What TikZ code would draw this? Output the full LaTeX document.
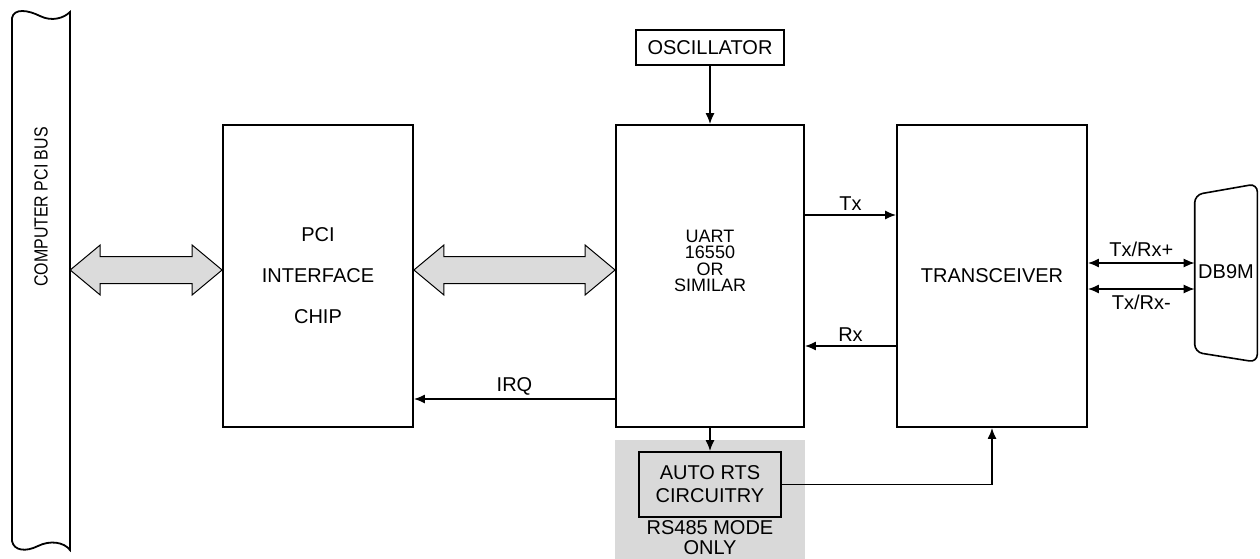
\documentclass[tikz,border=0pt]{standalone}
\usepackage{fontspec}
\setmainfont{Liberation Sans}
\usetikzlibrary{arrows.meta, positioning, calc}

\newcommand{\fatarrow}[2]{%
	\draw [fat] (#1) -- ++(30,-25) -- ++(0,11.5) -- ($(#2)+(-30,-13.5)$) -- ++(0,-11.5) -- (#2)
		-- ++(-30,25) -- ++(0,-11.5) -- ($(#1)+(30,13.5)$) -- ++(0,11.5) -- cycle;}

\begin{document}
\begin{tikzpicture}[x=1pt, y=-1pt, font=\fontsize{20}{24}\selectfont]
		\tikzstyle{Block} = [rectangle, draw=black, line width=1.8pt, minimum width=190pt, minimum height=302pt, align=center]
		\tikzstyle{Small} = [rectangle, draw=black, line width=1.8pt, align=center]
		\tikzstyle{arrow} = [line width=1.5pt, ->, >={Latex[length=11pt,width=9pt]}]
		\tikzstyle{fat} = [draw=black, line width=1pt, fill=gray!28]
		
		\useasboundingbox (0,0) rectangle (1260,559);
		\fill [gray!30] (615,440) rectangle (805,559);
		
		\node (bus) [minimum width=58pt, minimum height=530pt] at (41,280) {};
		\node (busname) [rotate=90, xscale=0.84, font=\fontsize{19}{22}\selectfont] at (41,207) {COMPUTER PCI BUS};
		\draw [line width=1.8pt] (12,18) .. controls (14,8) and (28,10) .. (40,16) .. controls (52,22) and (64,18) .. (70,12)
			-- (70,550) .. controls (64,542) and (50,540) .. (38,546) .. controls (26,552) and (14,551) .. (12,541) -- cycle;
		
		\node (pci) [Block] at (318,276) {PCI\\[17pt]INTERFACE\\[17pt]CHIP};
		\node (uart) [Block, minimum width=188pt] at (710,276) {};
		\node (uartname) [align=center, font=\fontsize{18}{16.5}\selectfont] at (710,261) {UART\\16550\\OR\\SIMILAR};
		\node (trx) [Block] at (992,276) {TRANSCEIVER};
		\node (osc) [Small, minimum width=148pt, minimum height=35pt] at (710,47.5) {OSCILLATOR};
		\node (rts) [Small, minimum width=142pt, minimum height=65pt, font=\fontsize{20}{23}\selectfont] at (710,484.5) {AUTO RTS\\CIRCUITRY};
		\node (mode) [align=center, font=\fontsize{20}{20}\selectfont, inner sep=0pt] at (710,538) {RS485 MODE\\ONLY};
		
		\node (db9) [minimum width=62pt, minimum height=170pt] at (1226,272) {DB9M};
		\draw [line width=1.6pt, rounded corners=8pt] ($(db9.north west)+(0,8)$) -- ($(db9.north east)+(0,-3)$)
			-- ($(db9.south east)+(0,5)$) -- ($(db9.south west)+(0,-5)$) -- cycle;
		
		\fatarrow{[yshift=10pt]bus.east}{[yshift=6pt]pci.west}
		\fatarrow{[yshift=6pt]pci.east}{[yshift=6pt]uart.west}
		
		\draw [arrow] (osc) -- (uart);
		\draw [arrow] (uart) -- (rts);
		\draw [arrow] ([yshift=61pt]uart.east) -- ([yshift=61pt]trx.west) node [midway, above] {Tx};
		\draw [arrow] ([yshift=-70pt]trx.west) -- ([yshift=-70pt]uart.east) node [midway, above] {Rx};
		\draw [arrow] ([yshift=-123pt]uart.west) -- ([yshift=-123pt]pci.east) node [midway, above] {IRQ};
		\draw [arrow] (rts.east) -| (trx.south);
		\draw [arrow, <->] ([yshift=13pt]trx.east) -- ([yshift=13pt]trx.east -| db9.west) node [midway, above=2pt] {Tx/Rx+};
		\draw [arrow, <->] ([yshift=-13pt]trx.east) -- ([yshift=-13pt]trx.east -| db9.west) node [midway, below=2pt] {Tx/Rx-};
\end{tikzpicture}
\end{document}
